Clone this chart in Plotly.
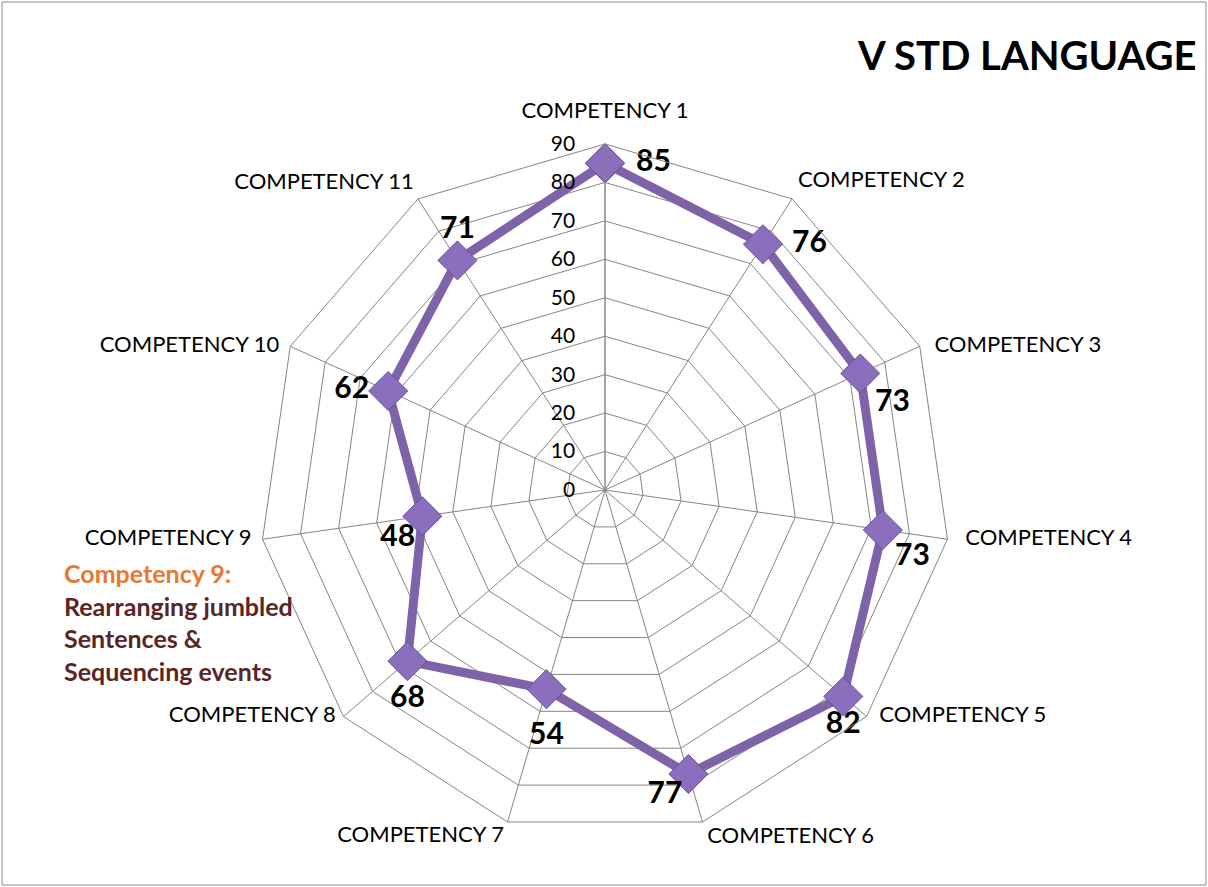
import plotly.graph_objects as go

categories = ["COMPETENCY 1", "COMPETENCY 2", "COMPETENCY 3", "COMPETENCY 4",
              "COMPETENCY 5", "COMPETENCY 6", "COMPETENCY 7", "COMPETENCY 8",
              "COMPETENCY 9", "COMPETENCY 10", "COMPETENCY 11"]
values = [85, 76, 73, 73, 82, 77, 54, 68, 48, 62, 71]
radial_ticks = [0, 10, 20, 30, 40, 50, 60, 70, 80, 90]
radial_max = 90

# placement of the value labels and the category labels around each point
value_label_pos = ["middle right", "middle right", "bottom right", "bottom right",
                   "bottom center", "bottom left", "bottom center", "bottom center",
                   "bottom left", "middle left", "top center"]
value_label_gap = [48, 45, 22, 18, 21, 8, 50, 35, 10, 29, 22]
cat_label_pos = ["top center", "top right", "middle right", "middle right",
                 "middle right", "bottom right", "bottom left", "middle left",
                 "middle left", "middle left", "top left"]
cat_label_gap = [31, 8, 22, 27, 19, 6, 4, 11, 16, 16, 5]

W, H = 1208, 887
cx, cy, half = 605, 490, 346

FONT = "Lato, Carlito, Calibri, 'Liberation Sans', sans-serif"
CLEAR = "rgba(0,0,0,0)"
GRID = "#858585"

fig = go.Figure()
# main series
fig.add_trace(go.Scatterpolar(
    r=values + values[:1],
    theta=categories + categories[:1],
    mode="lines+markers",
    line=dict(color="#7F63A8", width=9),
    marker=dict(symbol="diamond", size=30, color="#8B6FBE",
                line=dict(color="#6A4E96", width=1)),
    cliponaxis=False,
    showlegend=False,
    hoverinfo="r+theta",
))
# value labels
fig.add_trace(go.Scatterpolar(
    r=values, theta=categories,
    mode="markers+text",
    marker=dict(size=value_label_gap, color=CLEAR, line=dict(width=0)),
    text=[str(v) for v in values],
    textposition=value_label_pos,
    textfont=dict(family=FONT, size=30, color="#000000", weight="bold"),
    cliponaxis=False, showlegend=False, hoverinfo="skip",
))
# category labels at the outer ring
fig.add_trace(go.Scatterpolar(
    r=[radial_max] * len(categories), theta=categories,
    mode="markers+text",
    marker=dict(size=cat_label_gap, color=CLEAR, line=dict(width=0)),
    text=categories,
    textposition=cat_label_pos,
    textfont=dict(family=FONT, size=22, color="#000000"),
    cliponaxis=False, showlegend=False, hoverinfo="skip",
))

fig.update_layout(
    width=W, height=H,
    margin=dict(l=0, r=0, t=0, b=0),
    paper_bgcolor="white",
    plot_bgcolor="white",
    font=dict(family=FONT, color="#000000"),
    polar=dict(
        domain=dict(x=[(cx - half) / W, (cx + half) / W],
                    y=[1 - (cy + half) / H, 1 - (cy - half) / H]),
        gridshape="linear",
        bgcolor="white",
        radialaxis=dict(
            range=[0, radial_max], tickvals=radial_ticks, angle=90,
            side="counterclockwise",
            showline=True, linecolor=GRID, linewidth=1,
            gridcolor=GRID, gridwidth=1,
            ticks="outside", ticklen=22, tickcolor=CLEAR,
            tickfont=dict(size=21, family=FONT, color="#000000"),
            tickangle=90,
        ),
        angularaxis=dict(
            direction="clockwise", rotation=90,
            showline=True, linecolor=GRID, linewidth=1,
            gridcolor=GRID, gridwidth=1,
            ticks="", showticklabels=False,
        ),
    ),
    shapes=[dict(type="rect", xref="paper", yref="paper",
                 x0=2 / W, x1=1 - 2 / W, y0=2 / H, y1=1 - 2 / H,
                 line=dict(color="#8C8C8C", width=1))],
    annotations=[
        dict(text="<b>V STD LANGUAGE</b>", xref="paper", yref="paper",
             x=1198 / W, y=1 - 55 / H, xanchor="right", yanchor="middle",
             showarrow=False, font=dict(size=40, family=FONT, color="#000000")),
        dict(text="<b><span style='color:#E8782E'>Competency 9:</span><br>"
                  "Rearranging jumbled<br>Sentences &amp;<br>Sequencing events</b>",
             xref="paper", yref="paper", x=62 / W, y=1 - 556 / H,
             xanchor="left", yanchor="top", align="left", showarrow=False,
             font=dict(size=25, family=FONT, color="#5A2525")),
    ],
)

fig.write_html("out.html", config={"displayModeBar": False},
               post_script="document.body.style.margin='0';")
